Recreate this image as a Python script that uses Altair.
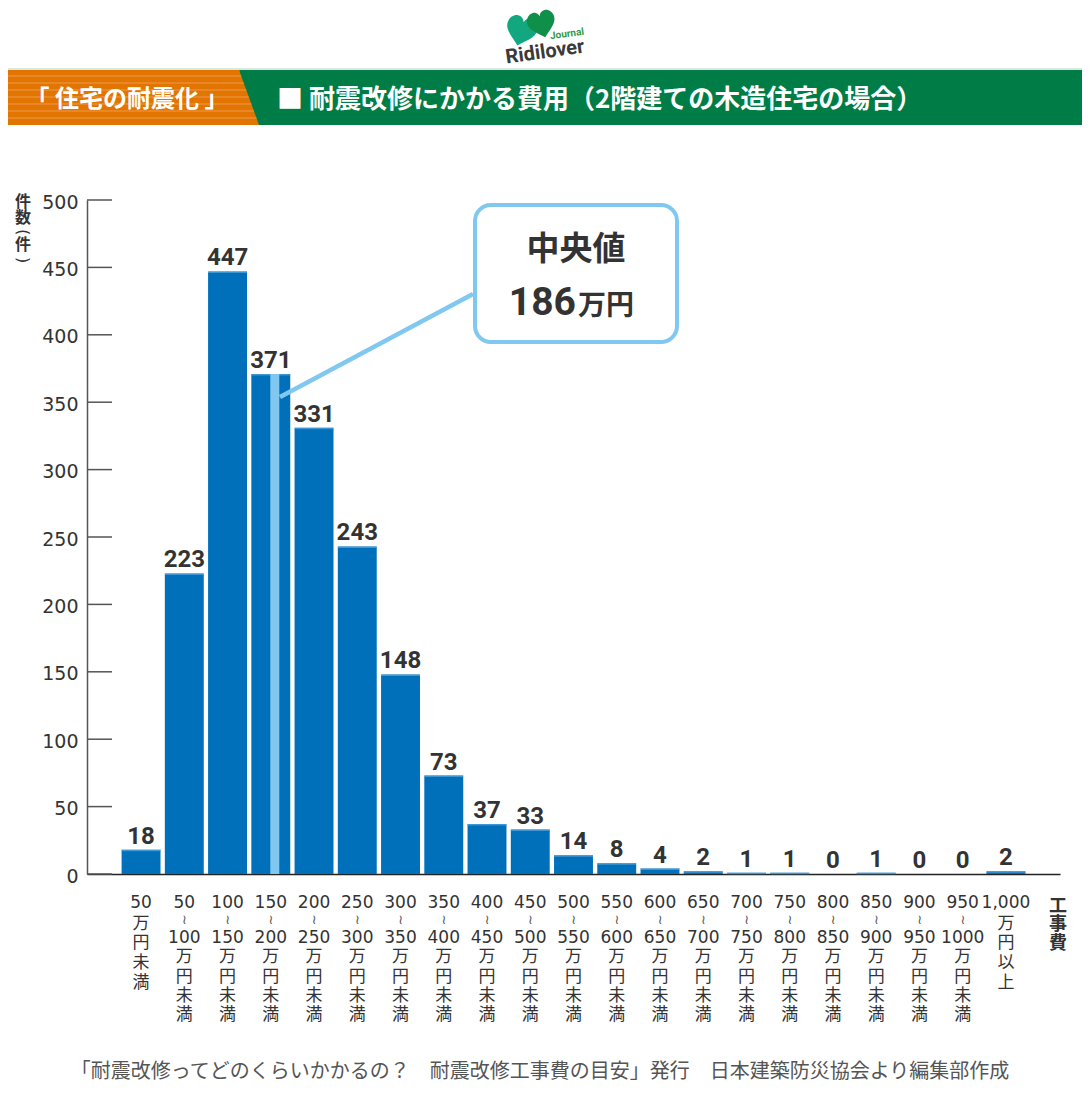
import altair as alt
import pandas as pd

# ---------------- data ----------------
range_lo = ["50", "50", "100", "150", "200", "250", "300", "350", "400", "450", "500",
            "550", "600", "650", "700", "750", "800", "850", "900", "950", "1,000"]
range_hi = ["", "100", "150", "200", "250", "300", "350", "400", "450", "500", "550",
            "600", "650", "700", "750", "800", "850", "900", "950", "1000", ""]
range_suffix = ["未満"] * 20 + ["以上"]
counts = [18, 223, 447, 371, 331, 243, 148, 73, 37, 33, 14, 8, 4, 2, 1, 1, 0, 1, 0, 0, 2]
y_ticks = [0, 50, 100, 150, 200, 250, 300, 350, 400, 450, 500]

median_index = 3
median_label = "中央値"
median_value = "186"
median_unit = "万円"

header_left = "「 住宅の耐震化 」"
header_right = "■ 耐震改修にかかる費用（2階建ての木造住宅の場合）"
footer_text = "「耐震改修ってどのくらいかかるの？　耐震改修工事費の目安」発行　日本建築防災協会より編集部作成"
y_title_chars = ["件", "数", "(", "件", ")"]
x_title_lines = ["工", "事", "費"]
logo_text = "Ridilover"
logo_sub = "Journal"

# ---------------- tables ----------------
cats = [lo + ("〜" + hi if hi else "") + "万円" + sf
        for lo, hi, sf in zip(range_lo, range_hi, range_suffix)]
rest = ["|".join(([hi] if hi else []) + ["万", "円"] + list(sf))
        for hi, sf in zip(range_hi, range_suffix)]
df = pd.DataFrame({"cat": cats, "lo": range_lo, "hi": range_hi, "rest": rest, "count": counts})
df_med = df.iloc[[median_index]]
df_ticks = pd.DataFrame({"t": y_ticks})

W, H = 973, 674
JP = "Noto Sans CJK JP"
NUM = "DejaVu Sans"
MIX = "DejaVu Sans, Noto Sans CJK JP"
BLUE = "#0070ba"
LIGHT = "#80c8f0"
ORANGE = "#e27400"
GREEN = "#007d46"

X = alt.X("cat:N", sort=cats,
          scale=alt.Scale(paddingInner=0.1, paddingOuter=0.8),
          axis=alt.Axis(labels=False, ticks=False, title=None, domainColor="#222",
                        domainWidth=1.5, grid=False))


def Yq(field):
    return alt.Y(field, type="quantitative",
                 scale=alt.Scale(domain=[0, 500], nice=False, zero=True),
                 axis=alt.Axis(values=y_ticks, ticks=False, title=None, grid=False,
                               labelFont=NUM, labelFontSize=19, labelColor="#333",
                               labelPadding=9, labelOffset=2, domainColor="#555",
                               domainWidth=1.5))


one = pd.DataFrame({"d": [0]})

# ---------------- chart marks ----------------
tick_rules = alt.Chart(df_ticks).mark_rule(color="#555", strokeWidth=1.5).encode(
    y=Yq("t"), x=alt.value(0), x2=alt.value(25))

bars = alt.Chart(df).mark_bar(color=BLUE).encode(x=X, y=Yq("count"))

bar_tops = alt.Chart(df).transform_filter("datum.count > 0").mark_tick(
    color="#5aa6e0", thickness=1.5, size=38.9, orient="horizontal", yOffset=0.75
).encode(x=X, y=Yq("count"))

median_rule = alt.Chart(df_med).mark_rule(color=LIGHT, strokeWidth=9, xOffset=4).encode(
    x=X, y=Yq("count"), y2=alt.datum(0))

bar_labels = alt.Chart(df).mark_text(
    dy=-6, baseline="alphabetic", font="Roboto", fontWeight="bold", fontSize=24, color="#333"
).encode(x=X, y=Yq("count"), text="count:Q")

# x category labels
lab_top = alt.Chart(df).mark_text(font=NUM, fontSize=17, color="#333", baseline="middle").encode(
    x=X, y=alt.value(H + 29), text="lo:N")
lab_tilde = alt.Chart(df).transform_filter("datum.hi != ''").mark_text(
    font=NUM, fontSize=13, color="#555", baseline="middle").encode(
    x=X, y=alt.value(H + 46), text=alt.value("≀"))
lab_rest_hi = alt.Chart(df).transform_filter("datum.hi != ''").transform_calculate(
    lines="split(datum.rest, '|')").mark_text(
    font=MIX, fontSize=17, color="#333", baseline="top", lineHeight=19.3).encode(
    x=X, y=alt.value(H + 56), text="lines:N")
lab_rest_no = alt.Chart(df).transform_filter("datum.hi == ''").transform_calculate(
    lines="split(datum.rest, '|')").mark_text(
    font=MIX, fontSize=17, color="#333", baseline="top", lineHeight=19.7).encode(
    x=X, y=alt.value(H + 41.5), text="lines:N")

x_title = alt.Chart(one).mark_text(
    text=x_title_lines, font=JP, fontWeight="bold", fontSize=18, color="#333",
    baseline="top", lineHeight=18.5, align="center").encode(
    x=alt.value(971), y=alt.value(H + 23.5))

# vertical y title: kanji upright, parentheses turned a quarter
ytitle_y = [2, 18, 32, 45, 60]
ytitle_angle = [0, 0, 90, 0, 90]
y_title = [
    alt.Chart(one).mark_text(
        text=ch, font=(NUM if ang else JP), fontWeight=("normal" if ang else "bold"),
        fontSize=16, color="#333", baseline="middle", align="center", angle=ang
    ).encode(x=alt.value(-64), y=alt.value(yy))
    for ch, yy, ang in zip(y_title_chars, ytitle_y, ytitle_angle)
]

# callout
connector = alt.Chart(one).mark_rule(color=LIGHT, strokeWidth=4.5).encode(
    x=alt.value(193), x2=alt.value(386), y=alt.value(197), y2=alt.value(94))
box = alt.Chart(one).mark_rect(fill="white", stroke=LIGHT, strokeWidth=4, cornerRadius=16).encode(
    x=alt.value(388), x2=alt.value(590), y=alt.value(5), y2=alt.value(142))
call_t1 = alt.Chart(one).mark_text(
    text=median_label, font=JP, fontWeight="bold", fontSize=33, color="#333",
    align="center", baseline="middle").encode(x=alt.value(489), y=alt.value(50))
call_t2 = alt.Chart(one).mark_text(
    text=median_value, font="Roboto", fontWeight="bold", fontSize=39, color="#333",
    align="right", baseline="alphabetic").encode(x=alt.value(489), y=alt.value(115))
call_t3 = alt.Chart(one).mark_text(
    text=median_unit, font=JP, fontWeight="bold", fontSize=28, color="#333",
    align="left", baseline="alphabetic").encode(x=alt.value(491), y=alt.value(115))

# header banner
line_top = alt.Chart(one).mark_rule(color="#cfe0d8", strokeWidth=1.5).encode(
    x=alt.value(-79), x2=alt.value(995), y=alt.value(-131))
green_rect = alt.Chart(one).mark_rect(color=GREEN).encode(
    x=alt.value(150), x2=alt.value(995), y=alt.value(-130), y2=alt.value(-75))
orange_rect = alt.Chart(one).mark_rect(color=ORANGE).encode(
    x=alt.value(-79), x2=alt.value(152.5), y=alt.value(-130), y2=alt.value(-75))
tri = pd.DataFrame({"px": [152, 172], "py": [-130, -75], "py2": [-75, -75]})
orange_tri = alt.Chart(tri).mark_area(color=ORANGE).encode(
    x=alt.X("px:Q", scale=None), y=alt.Y("py:Q", scale=None), y2="py2:Q")
stripe_py = [-124, -117, -110, -103, -96, -89, -82]
stripes = pd.DataFrame({"py": stripe_py,
                        "px": [-79] * len(stripe_py),
                        "px2": [152 + (p + 130) / 55 * 20 for p in stripe_py]})
stripe_rules = alt.Chart(stripes).mark_rule(color="#ec9a4e", strokeWidth=1).encode(
    x=alt.X("px:Q", scale=None), x2="px2:Q", y=alt.Y("py:Q", scale=None))
head_l = alt.Chart(one).mark_text(
    text=header_left, font=JP, fontWeight="bold", fontSize=24, color="white",
    align="center", baseline="middle").encode(x=alt.value(40), y=alt.value(-100))
head_r = alt.Chart(one).mark_text(
    text=header_right, font=JP, fontWeight="bold", fontSize=26, color="white",
    align="left", baseline="middle").encode(x=alt.value(190), y=alt.value(-100))

# logo
HEART = ("M0,0.9 C-0.35,0.55 -1,0.15 -1,-0.35 C-1,-0.75 -0.7,-1 -0.45,-1 "
         "C-0.2,-1 -0.05,-0.85 0,-0.65 C0.05,-0.85 0.2,-1 0.45,-1 "
         "C0.7,-1 1,-0.75 1,-0.35 C1,0.15 0.35,0.55 0,0.9 Z")
heart1 = alt.Chart(one).mark_point(shape=HEART, filled=True, color="#13a77f", opacity=1,
                                   size=950, angle=15).encode(
    x=alt.value(434), y=alt.value(-168))
heart2 = alt.Chart(one).mark_point(shape=HEART, filled=True, color="#0f8f4a", opacity=1,
                                   size=780, angle=345).encode(
    x=alt.value(455), y=alt.value(-175))
logo1 = alt.Chart(one).mark_text(
    text=logo_text, font="Liberation Sans Narrow, Roboto", fontWeight="bold", fontSize=20,
    color="#3a3a3a", angle=352, align="center", baseline="middle").encode(
    x=alt.value(458), y=alt.value(-148))
logo2 = alt.Chart(one).mark_text(
    text=logo_sub, font="Roboto", fontWeight="bold", fontSize=10, color="#2f9a45",
    angle=352, align="center", baseline="middle").encode(
    x=alt.value(480), y=alt.value(-166))

footer = alt.Chart(one).mark_text(
    text=footer_text, font=JP, fontSize=20, color="#555", align="center",
    baseline="middle").encode(x=alt.value(453), y=alt.value(872))

chart = alt.layer(
    line_top, green_rect, orange_rect, orange_tri, stripe_rules, head_l, head_r,
    heart1, heart2, logo1, logo2,
    bars, bar_tops, median_rule, tick_rules, bar_labels,
    lab_top, lab_tilde, lab_rest_hi, lab_rest_no, x_title, *y_title,
    connector, box, call_t1, call_t2, call_t3, footer,
).properties(
    width=W, height=H,
    padding={"left": 79, "top": 192, "right": 22, "bottom": 219},
    autosize=alt.AutoSizeParams(type="none"),
    background="white",
).configure_view(stroke=None)

chart.save("out.html", embed_options={"renderer": "svg", "actions": False})
